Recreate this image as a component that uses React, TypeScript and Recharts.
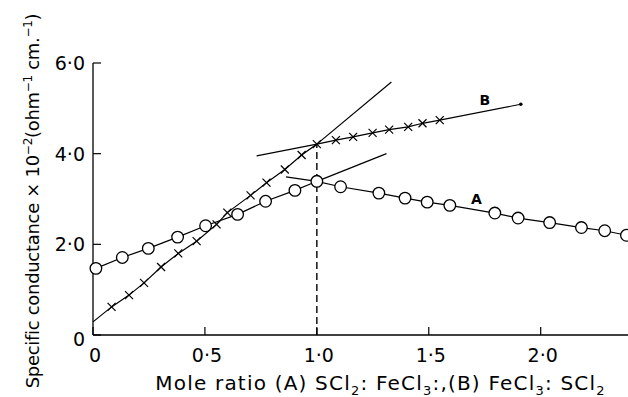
import React from 'react';
import { LineChart, Line, XAxis, YAxis, ReferenceLine, ReferenceDot } from 'recharts';

// Curve A: SCl2 : FeCl3 (circles)
const aX = [0.013, 0.131, 0.247, 0.378, 0.503, 0.646, 0.771, 0.902, 1.0, 1.106, 1.277, 1.394, 1.493, 1.594, 1.795, 1.899, 2.04, 2.182, 2.286, 2.383];
const aY = [1.47, 1.71, 1.91, 2.16, 2.41, 2.66, 2.95, 3.19, 3.39, 3.27, 3.13, 3.02, 2.93, 2.86, 2.69, 2.58, 2.48, 2.37, 2.3, 2.2];

// Curve B: FeCl3 : SCl2 (crosses)
const bX = [0, 0.083, 0.161, 0.228, 0.304, 0.381, 0.463, 0.552, 0.6, 0.704, 0.775, 0.857, 0.932, 1.0, 1.085, 1.162, 1.249, 1.323, 1.408, 1.472, 1.549, 1.911];
const bY = [0.29, 0.62, 0.88, 1.15, 1.5, 1.8, 2.07, 2.44, 2.7, 3.08, 3.36, 3.65, 3.97, 4.21, 4.3, 4.37, 4.46, 4.53, 4.59, 4.67, 4.74, 5.09];
const bMarks = ['none', 'x', 'x', 'x', 'x', 'x', 'x', 'x', 'x', 'x', 'x', 'x', 'x', 'x', 'x', 'x', 'x', 'x', 'x', 'x', 'x', 'end'];

// Extrapolated tangent lines at the break points
const tanBRiseX = [1.0, 1.333];
const tanBRiseY = [4.21, 5.58];
const tanBFlatX = [0.731, 1.0];
const tanBFlatY = [3.95, 4.21];
const tanARiseX = [1.0, 1.311];
const tanARiseY = [3.39, 4.0];
const tanAFallX = [0.862, 1.0];
const tanAFallY = [3.49, 3.39];

const breakX = 1.0;
const breakTopY = 4.21;

const labelA = { x: 1.713, y: 3.0, text: 'A' };
const labelB = { x: 1.75, y: 5.18, text: 'B' };

const xTicks = [0, 0.5, 1, 1.5, 2];
const yTicks = [0, 2, 4, 6];

const FONT = '"DejaVu Sans", sans-serif';

const toPts = (xs: number[], ys: number[]) => xs.map((x, i) => ({ x, y: ys[i] }));
const seriesA = toPts(aX, aY);
const seriesB = bX.map((x, i) => ({ x, y: bY[i], m: bMarks[i] }));

const fmt = (v: number) => (v === 0 ? '0' : v.toFixed(1).replace('.', '\u00B7'));

const XTick = (props: any) => {
  const { x, y, payload } = props;
  return (
    <g>
      <line x1={x} x2={x} y1={y - 8} y2={y - 16} stroke="#000" strokeWidth={1.2} />
      <text x={x + 2} y={y + 19} textAnchor="middle" fontSize={19} fontFamily={FONT} fill="#000">
        {fmt(payload.value)}
      </text>
    </g>
  );
};

const YTick = (props: any) => {
  const { x, y, payload } = props;
  return (
    <g>
      <line x1={x + 6} x2={x + 14} y1={y} y2={y} stroke="#000" strokeWidth={1.2} />
      <text x={x - 2} y={y + 7 + (payload.value === 0 ? 4 : 0)} textAnchor="end" fontSize={19} fontFamily={FONT} fill="#000">
        {fmt(payload.value)}
      </text>
    </g>
  );
};

const XLabel = (props: any) => {
  const vb = props.viewBox || { x: 93, y: 335, width: 535, height: 62 };
  const cx = vb.x + vb.width / 2 + 20;
  const by = vb.y + 55;
  return (
    <text x={cx} y={by} textAnchor="middle" fontSize={20} letterSpacing={1.2} fontFamily={FONT} fill="#000">
      <tspan>Mole ratio (A) SCl</tspan>
      <tspan dy={5} fontSize={13}>2</tspan>
      <tspan dy={-5}>: FeCl</tspan>
      <tspan dy={5} fontSize={13}>3</tspan>
      <tspan dy={-5}>:,(B) FeCl</tspan>
      <tspan dy={5} fontSize={13}>3</tspan>
      <tspan dy={-5}>: SCl</tspan>
      <tspan dy={5} fontSize={13}>2</tspan>
    </text>
  );
};

const YLabel = () => {
  const cy = 201;
  const bx = 39;
  return (
    <text transform="rotate(-90)" x={-cy} y={bx} textAnchor="middle" fontSize={18} letterSpacing={-0.3} fontFamily={FONT} fill="#000">
      <tspan>Specific conductance × 10</tspan>
      <tspan dy={-7} fontSize={12}>−2</tspan>
      <tspan dy={7}>(ohm</tspan>
      <tspan dy={-7} fontSize={12}>−1</tspan>
      <tspan dy={7}> cm.</tspan>
      <tspan dy={-7} fontSize={12}>−1</tspan>
      <tspan dy={7}>)</tspan>
    </text>
  );
};

const CircleDot = (props: any) => {
  const { cx, cy, index } = props;
  return <circle key={`a-${index}`} cx={cx} cy={cy} r={5.8} fill="#fff" stroke="#000" strokeWidth={1.3} />;
};

const CrossDot = (props: any) => {
  const { cx, cy, index, payload } = props;
  if (payload.m === 'x') {
    const s = 4;
    return (
      <g key={`b-${index}`}>
        <line x1={cx - s} y1={cy - s} x2={cx + s} y2={cy + s} stroke="#000" strokeWidth={1.2} />
        <line x1={cx - s} y1={cy + s} x2={cx + s} y2={cy - s} stroke="#000" strokeWidth={1.2} />
      </g>
    );
  }
  if (payload.m === 'end') {
    return <circle key={`b-${index}`} cx={cx} cy={cy} r={1.8} fill="#000" />;
  }
  return <g key={`b-${index}`} />;
};

const lineProps = {
  dataKey: 'y',
  stroke: '#000',
  strokeWidth: 1.2,
  dot: false,
  activeDot: false,
  isAnimationActive: false,
  type: 'linear' as const,
};

export default function App() {
  return (
    <div style={{ position: 'absolute', left: 0, top: 0, background: '#fff' }}>
      <LineChart width={628} height={397} margin={{ top: 63, right: 0, bottom: 0, left: 0 }}>
        <XAxis
          type="number"
          dataKey="x"
          domain={[0, 2.39]}
          ticks={xTicks}
          height={62}
          tickSize={0}
          tickMargin={8}
          tick={<XTick />}
          axisLine={{ stroke: '#000', strokeWidth: 1.3 }}
          label={<XLabel />}
        />
        <YAxis
          type="number"
          domain={[0, 6]}
          ticks={yTicks}
          width={93}
          tickSize={0}
          tickMargin={6}
          tick={<YTick />}
          axisLine={{ stroke: '#000', strokeWidth: 1.3 }}
          label={<YLabel />}
        />
        <ReferenceLine
          segment={[{ x: breakX, y: 0 }, { x: breakX, y: breakTopY }]}
          stroke="#000"
          strokeWidth={1.4}
          strokeDasharray="7 4"
        />
        <Line {...lineProps} data={toPts(tanBRiseX, tanBRiseY)} />
        <Line {...lineProps} data={toPts(tanBFlatX, tanBFlatY)} />
        <Line {...lineProps} data={toPts(tanARiseX, tanARiseY)} />
        <Line {...lineProps} data={toPts(tanAFallX, tanAFallY)} />
        <Line {...lineProps} data={seriesB} dot={CrossDot} />
        <Line {...lineProps} data={seriesA} dot={CircleDot} />
        <ReferenceDot
          x={labelA.x}
          y={labelA.y}
          r={0}
          fill="none"
          stroke="none"
          label={{ value: labelA.text, position: 'center', fontSize: 14, fontWeight: 'bold', fill: '#000', fontFamily: FONT }}
        />
        <ReferenceDot
          x={labelB.x}
          y={labelB.y}
          r={0}
          fill="none"
          stroke="none"
          label={{ value: labelB.text, position: 'center', fontSize: 14, fontWeight: 'bold', fill: '#000', fontFamily: FONT }}
        />
      </LineChart>
    </div>
  );
}
